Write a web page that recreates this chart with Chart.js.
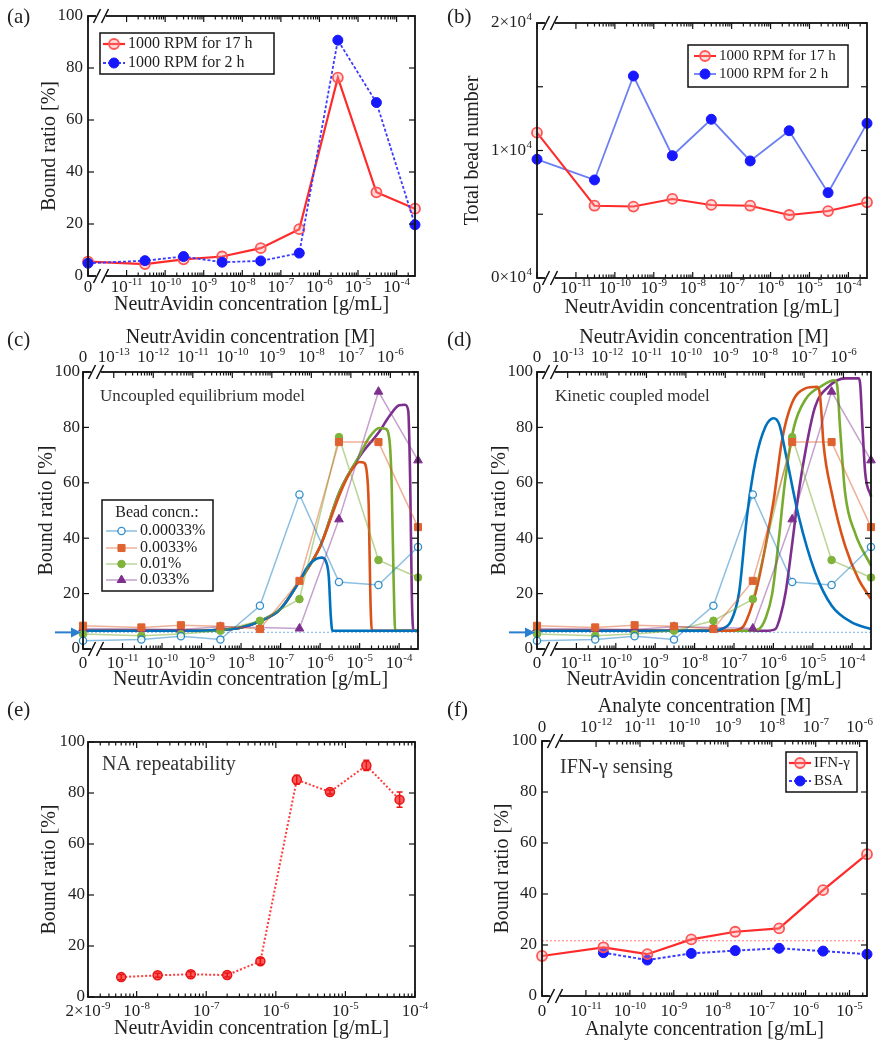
<!DOCTYPE html>
<html><head><meta charset="utf-8">
<script src="https://cdn.jsdelivr.net/npm/chart.js@4.4.1/dist/chart.umd.min.js"></script>
<style>
html,body{margin:0;padding:0;background:#fff;}
#wrap{position:relative;width:882px;height:1050px;overflow:hidden;background:#fff;}
#wrap canvas{position:absolute;left:0;top:0;}
</style></head>
<body><div id="wrap">
<canvas id="ca" width="882" height="1050"></canvas>
<canvas id="cb" width="882" height="1050"></canvas>
<canvas id="cc" width="882" height="1050"></canvas>
<canvas id="cd" width="882" height="1050"></canvas>
<canvas id="ce" width="882" height="1050"></canvas>
<canvas id="cf" width="882" height="1050"></canvas>
</div>
<script>
// ================= DATA =================
// (a),(b): NeutrAvidin concentration [g/mL] ("0" sits at the axis break)
const naConc = [0, 3e-11, 3e-10, 3e-9, 3e-8, 3e-7, 3e-6, 3e-5, 3e-4];
const rpmLabels = ['1000 RPM for 17 h', '1000 RPM for 2 h'];
const boundRatio17h = [5.5, 4.6, 6.4, 7.5, 10.7, 18.0, 76.3, 32.2, 25.9];
const boundRatio2h  = [4.9, 5.9, 7.5, 5.3, 5.8, 8.8, 90.7, 66.7, 19.7];
const beadNumber17h = [11400, 5670, 5600, 6200, 5730, 5670, 4940, 5250, 5940];
const beadNumber2h  = [9310, 7690, 15840, 9590, 12450, 9180, 11550, 6690, 12130];

// (c),(d): measured bound ratio per bead concentration
const beadLabels = ['0.00033%', '0.0033%', '0.01%', '0.033%'];
const bead000033 = [3.0, 3.4, 4.6, 3.4, 15.6, 55.8, 24.2, 23.1, 36.8];
const bead00033  = [8.4, 7.8, 8.6, 8.2, 7.2, 24.6, 74.7, 74.7, 44.0];
const bead001    = [5.4, 4.8, 5.4, 6.6, 10.2, 18.0, 76.5, 32.1, 25.8];
const bead0033   = [7.4, 7.2, 7.0, 8.0, 7.8, 7.4, 46.8, 92.9, 68.1];
const baselineRatio = 6.0;

// (c) uncoupled equilibrium model curves (x = log10 g/mL, -12 = "0")
const ucBlueX = [-12, -9, -8.5, -8, -7.5, -7, -6.52, -6.3, -6.1, -5.96, -5.85, -5.78, -5.73, -5.69, -3.52];
const ucBlueY = [6.6, 6.6, 6.9, 7.8, 10.2, 14.5, 24.6, 30, 32.5, 33, 31.5, 26, 12, 6.6, 6.6];
const ucOrangeX = [-12, -9, -8.5, -8, -7.5, -7, -6.52, -6, -5.5, -5.25, -5.0, -4.9, -4.82, -4.77, -4.73, -4.69, -3.52];
const ucOrangeY = [6.6, 6.6, 6.9, 7.8, 10.2, 14.5, 24.6, 37, 56, 63.5, 67.5, 67.3, 64, 52, 20, 6.6, 6.6];
const ucGreenX = [-12, -9, -8.5, -8, -7.5, -7, -6.52, -6, -5.5, -5, -4.75, -4.5, -4.35, -4.25, -4.19, -4.14, -4.1, -3.52];
const ucGreenY = [6.6, 6.6, 6.9, 7.8, 10.2, 14.5, 24.6, 37, 57, 70, 76.5, 79.8, 79.5, 76, 60, 25, 6.6, 6.6];
const ucPurpleX = [-12, -9, -8.5, -8, -7.5, -7, -6.52, -6, -5.5, -5, -4.5, -4.25, -4, -3.85, -3.77, -3.72, -3.68, -3.64, -3.52];
const ucPurpleY = [6.6, 6.6, 6.9, 7.8, 10.2, 14.5, 24.6, 37, 57, 69.5, 78.5, 84, 88, 88.2, 86, 60, 20, 6.6, 6.6];

// (d) kinetic coupled model curves
const kcBlueX = [-12, -7.6, -7.3, -7.08, -6.87, -6.67, -6.45, -6.2, -5.99, -5.85, -5.69, -5.36, -4.94, -4.52, -4.01, -3.52];
const kcBlueY = [6.6, 6.6, 7.3, 10, 20.5, 48, 68.3, 80.3, 83.3, 81, 70.7, 48, 27.6, 15.6, 9.6, 7.2];
const kcOrangeX = [-12, -7.1, -6.9, -6.75, -6.45, -6.2, -5.99, -5.78, -5.53, -5.19, -4.9, -4.83, -4.78, -4.73, -4.52, -4.18, -3.84, -3.52];
const kcOrangeY = [6.6, 6.6, 7.0, 8.4, 20.4, 37.2, 54, 75.5, 88.7, 94.1, 94.7, 93, 85, 74.3, 56.4, 37.2, 25.2, 18];
const kcGreenX = [-12, -6.6, -6.37, -6.2, -6.03, -5.86, -5.71, -5.48, -5.19, -4.77, -4.45, -4.38, -4.31, -4.18, -3.93, -3.52];
const kcGreenY = [6.6, 6.6, 7.2, 11, 20, 40, 60, 80, 90, 95, 97, 95, 80.3, 56.4, 42, 30];
const kcPurpleX = [-12, -6.2, -5.95, -5.82, -5.69, -5.53, -5.36, -5.15, -4.94, -4.6, -4.18, -3.84, -3.8, -3.74, -3.67, -3.52];
const kcPurpleY = [6.6, 6.6, 7.2, 12, 20.4, 37.2, 56.4, 74.3, 87.5, 94.7, 97.7, 97.7, 96, 80.3, 63.6, 55];

// (e) NA repeatability
const repConc = [6e-9, 2e-8, 6e-8, 2e-7, 6e-7, 2e-6, 6e-6, 2e-5, 6e-5];
const repRatio = [7.8, 8.5, 8.9, 8.6, 14.0, 85.2, 80.4, 90.8, 77.4];
const repError = [1.0, 0.8, 1.0, 0.8, 1.2, 1.8, 0.8, 2.0, 3.0];

// (f) IFN-gamma sensing
const ifnConc = [0, 2.5e-11, 2.5e-10, 2.5e-9, 2.5e-8, 2.5e-7, 2.5e-6, 2.5e-5];
const ifnRatio = [15.7, 19.1, 16.4, 22.2, 25.2, 26.5, 41.5, 55.6];
const bsaConc = [2.5e-11, 2.5e-10, 2.5e-9, 2.5e-8, 2.5e-7, 2.5e-6, 2.5e-5];
const bsaRatio = [17.0, 14.1, 16.7, 17.8, 18.7, 17.6, 16.4];
const ifnThreshold = 21.7;
const ifnLegend = ['IFN-γ', 'BSA'];

// tick labels
const gmlTickExp = [-12, -11, -10, -9, -8, -7, -6, -5, -4];
const gmlTickLabels = ['0', '10⁻¹¹', '10⁻¹⁰', '10⁻⁹', '10⁻⁸', '10⁻⁷', '10⁻⁶', '10⁻⁵', '10⁻⁴'];
const naMolarExp = [null, -13, -12, -11, -10, -9, -8, -7, -6];
const naMolarLabels = ['0', '10⁻¹³', '10⁻¹²', '10⁻¹¹', '10⁻¹⁰', '10⁻⁹', '10⁻⁸', '10⁻⁷', '10⁻⁶'];
const repTickVals = [2e-9, 1e-8, 1e-7, 1e-6, 1e-5, 1e-4];
const repTickLabels = ['2×10⁻⁹', '10⁻⁸', '10⁻⁷', '10⁻⁶', '10⁻⁵', '10⁻⁴'];
const ifnTickExp = [-12, -11, -10, -9, -8, -7, -6, -5];
const ifnTickLabels = ['0', '10⁻¹¹', '10⁻¹⁰', '10⁻⁹', '10⁻⁸', '10⁻⁷', '10⁻⁶', '10⁻⁵'];
const ifnMolarExp = [null, -12, -11, -10, -9, -8, -7, -6];
const ifnMolarLabels = ['0', '10⁻¹²', '10⁻¹¹', '10⁻¹⁰', '10⁻⁹', '10⁻⁸', '10⁻⁷', '10⁻⁶'];
const ratioTicks = [0, 20, 40, 60, 80, 100];
const ratioLabels = ['0', '20', '40', '60', '80', '100'];
const beadTicks = [0, 5000, 10000, 15000, 20000];
const beadTickLabels = ['0×10⁴', '', '1×10⁴', '', '2×10⁴'];
const NA_LOG_MW = Math.log10(60);   // 60 kDa: g/mL = M * 60
const IFN_LOG_MW = Math.log10(17);  // 17 kDa

// ================= HELPERS =================
const SERIF = '"Liberation Serif","Times New Roman","DejaVu Serif",serif';
const TXT = '#1f1f1f';
const TICK_SIZE = 17, SUP_SIZE = 11;
const BREAK_POS = -12;
const pos = c => c === 0 ? BREAK_POS : Math.log10(c);
const molarPos = (e, off) => e === null ? BREAK_POS : e + off;
const NA_MAX = pos(3e-4), IFN_MAX = pos(2.5e-5);
const SUP_MAP = {'⁻': '-', '⁰': '0', '¹': '1', '²': '2', '³': '3', '⁴': '4', '⁵': '5', '⁶': '6', '⁷': '7', '⁸': '8', '⁹': '9'};

function minorTicks(e0, e1, lo, hi, off) {
  const out = [];
  for (let e = e0; e <= e1; e++) for (let k = 2; k <= 9; k++) {
    const v = e + Math.log10(k) + (off || 0);
    if (v > lo + 0.01 && v < hi - 0.01) out.push(v);
  }
  return out;
}
function pts(xs, ys, fx) { return xs.map((x, i) => ({x: fx ? fx(x) : x, y: ys[i]})); }

// draws a label such as "10⁻¹¹" with a real raised exponent
function drawSupLabel(ctx, label, x, y, align) {
  let base = '', exp = '';
  for (const ch of label) { if (SUP_MAP[ch] !== undefined) exp += SUP_MAP[ch]; else base += ch; }
  ctx.font = TICK_SIZE + 'px ' + SERIF;
  const wb = ctx.measureText(base).width;
  ctx.font = SUP_SIZE + 'px ' + SERIF;
  const we = exp ? ctx.measureText(exp).width + 0.5 : 0;
  const w = wb + we;
  const x0 = align === 'right' ? x - w : x - w / 2;
  ctx.textAlign = 'left'; ctx.textBaseline = 'middle'; ctx.fillStyle = TXT;
  ctx.font = TICK_SIZE + 'px ' + SERIF;
  ctx.fillText(base, x0, y);
  if (exp) { ctx.font = SUP_SIZE + 'px ' + SERIF; ctx.fillText(exp, x0 + wb + 0.5, y - 5.5); }
}

function xAxis(position, min, max, ticks, labels, title, H, pad) {
  return {
    type: 'linear', position, min, max, bounds: 'data',
    afterBuildTicks: s => { s.ticks = ticks.map(v => ({value: v})); },
    afterFit: s => { s.height = H; s.paddingLeft = 0; s.paddingRight = 0; },
    ticks: {display: false, autoSkip: false, maxRotation: 0, minRotation: 0, padding: pad,
      callback: (v, i) => labels[i]},
    grid: {display: false, drawTicks: false},
    border: {display: false},
    labelPad: pad,
    title: {display: true, text: title, color: TXT, font: {family: SERIF, size: 20}, padding: 0}
  };
}
function yAxis(min, max, ticks, labels, title, W, pad) {
  return {
    type: 'linear', position: 'left', min, max, bounds: 'data',
    afterBuildTicks: s => { s.ticks = ticks.map(v => ({value: v})); },
    afterFit: s => { s.width = W; s.paddingTop = 0; s.paddingBottom = 0; },
    ticks: {display: false, autoSkip: false, padding: pad, callback: (v, i) => labels[i]},
    grid: {display: false, drawTicks: false},
    border: {display: false},
    title: {display: true, text: title, color: TXT, font: {family: SERIF, size: 20}, padding: 0}
  };
}

function drawMarker(ctx, ds, x, y) {
  if (!ds.pointRadius) return;
  ctx.save();
  ctx.fillStyle = ds.pointBackgroundColor || ds.borderColor;
  ctx.strokeStyle = ds.pointBorderColor || ds.borderColor;
  ctx.lineWidth = ds.pointBorderWidth == null ? 1 : ds.pointBorderWidth;
  ctx.setLineDash([]);
  Chart.helpers.drawPoint(ctx, {pointStyle: ds.pointStyle || 'circle', radius: ds.pointRadius, rotation: 0, borderWidth: ctx.lineWidth}, x, y);
  ctx.restore();
}
function breakMark(ctx, x, y) {
  ctx.save();
  ctx.fillStyle = '#fff';
  ctx.fillRect(x - 1, y - 2.5, 10, 5);
  ctx.strokeStyle = '#111'; ctx.lineWidth = 1.5;
  [x, x + 8].forEach(xx => { ctx.beginPath(); ctx.moveTo(xx - 3.5, y + 7); ctx.lineTo(xx + 3.5, y - 7); ctx.stroke(); });
  ctx.restore();
}

function decoPlugin(d) {
  return {
    id: 'deco',
    afterDatasetsDraw(chart) {
      const ctx = chart.ctx, ca = chart.chartArea;
      const xs = chart.scales.x, ys = chart.scales.y, xt = chart.scales.xt;
      ctx.save();
      if (d.errorBars) {
        const ds = chart.data.datasets[d.errorBars.index];
        ctx.strokeStyle = d.errorBars.color; ctx.lineWidth = 1.5;
        ds.data.forEach((p, i) => {
          const e = d.errorBars.errors[i];
          const px = xs.getPixelForValue(p.x), y1 = ys.getPixelForValue(p.y - e), y2 = ys.getPixelForValue(p.y + e);
          ctx.beginPath(); ctx.moveTo(px, y1); ctx.lineTo(px, y2);
          ctx.moveTo(px - 3, y1); ctx.lineTo(px + 3, y1); ctx.moveTo(px - 3, y2); ctx.lineTo(px + 3, y2); ctx.stroke();
        });
      }
      ctx.strokeStyle = '#111'; ctx.lineWidth = 1.8;
      ctx.strokeRect(ca.left, ca.top, ca.right - ca.left, ca.bottom - ca.top);
      ctx.lineWidth = 1.2;
      const seg = (x1, y1, x2, y2) => { ctx.beginPath(); ctx.moveTo(x1, y1); ctx.lineTo(x2, y2); ctx.stroke(); };
      const MJ = 6, MN = 3.5;
      xs.ticks.forEach(t => { const p = xs.getPixelForValue(t.value); seg(p, ca.bottom, p, ca.bottom - MJ); if (!xt) seg(p, ca.top, p, ca.top + MJ); });
      (d.xMinor || []).forEach(v => { const p = xs.getPixelForValue(v); seg(p, ca.bottom, p, ca.bottom - MN); if (!xt) seg(p, ca.top, p, ca.top + MN); });
      if (xt) {
        xt.ticks.forEach(t => { const p = xt.getPixelForValue(t.value); seg(p, ca.top, p, ca.top + MJ); });
        (d.topMinor || []).forEach(v => { const p = xt.getPixelForValue(v); seg(p, ca.top, p, ca.top + MN); });
      }
      ys.ticks.forEach(t => { const p = ys.getPixelForValue(t.value); seg(ca.left, p, ca.left + MJ, p); seg(ca.right, p, ca.right - MJ, p); });
      if (d.breaks) { breakMark(ctx, ca.left + 9, ca.bottom); breakMark(ctx, ca.left + 9, ca.top); }
      ctx.restore();
    },
    afterDraw(chart) {
      const ctx = chart.ctx, ca = chart.chartArea, ys = chart.scales.y, xs = chart.scales.x, xt = chart.scales.xt;
      ctx.save();
      // tick labels (from the scales' own ticks)
      const half = TICK_SIZE * 0.6;
      xs.ticks.forEach(t => drawSupLabel(ctx, t.label, xs.getPixelForValue(t.value), ca.bottom + xs.options.labelPad + half, 'center'));
      if (xt) xt.ticks.forEach(t => drawSupLabel(ctx, t.label, xt.getPixelForValue(t.value), ca.top - xt.options.labelPad - half, 'center'));
      ys.ticks.forEach(t => { if (t.label) drawSupLabel(ctx, t.label, ca.left - ys.options.ticks.padding, ys.getPixelForValue(t.value), 'right'); });

      ctx.textBaseline = 'middle'; ctx.textAlign = 'left';
      if (d.panel) { ctx.fillStyle = TXT; ctx.font = '21px ' + SERIF; ctx.fillText(d.panel[0], d.panel[1], d.panel[2]); }
      (d.notes || []).forEach(n => { ctx.fillStyle = '#333'; ctx.font = n[3] + 'px ' + SERIF; ctx.fillText(n[0], n[1], n[2]); });
      if (d.arrow) {
        const y = ys.getPixelForValue(d.arrow.value);
        const x0 = ca.left - 28, x1 = ca.left - 2;
        ctx.strokeStyle = d.arrow.color; ctx.fillStyle = d.arrow.color; ctx.lineWidth = 2;
        ctx.beginPath(); ctx.moveTo(x0, y); ctx.lineTo(x1 - 8, y); ctx.stroke();
        ctx.beginPath(); ctx.moveTo(x1, y); ctx.lineTo(x1 - 10, y - 5); ctx.lineTo(x1 - 10, y + 5); ctx.closePath(); ctx.fill();
      }
      if (d.legend) {
        const L = d.legend;
        ctx.fillStyle = '#fff'; ctx.fillRect(L.x, L.y, L.w, L.h);
        ctx.strokeStyle = '#111'; ctx.lineWidth = 1.5; ctx.strokeRect(L.x, L.y, L.w, L.h);
        ctx.font = L.size + 'px ' + SERIF; ctx.fillStyle = TXT;
        if (L.title) { ctx.textAlign = 'center'; ctx.fillText(L.title, L.titleX, L.titleY); ctx.textAlign = 'left'; }
        L.rows.forEach(r => {
          const ds = chart.data.datasets[r[0]];
          ctx.save();
          ctx.strokeStyle = ds.borderColor; ctx.lineWidth = ds.borderWidth; ctx.setLineDash(ds.borderDash || []);
          ctx.beginPath(); ctx.moveTo(L.s0, r[2]); ctx.lineTo(L.s1, r[2]); ctx.stroke();
          ctx.restore();
          drawMarker(ctx, ds, (L.s0 + L.s1) / 2, r[2]);
          ctx.font = L.size + 'px ' + SERIF; ctx.textAlign = 'left'; ctx.textBaseline = 'middle';
          ctx.fillStyle = TXT; ctx.fillText(r[1], L.tx, r[2]);
        });
      }
      ctx.restore();
    }
  };
}

function buildChart(id, p) {
  const scales = {
    x: xAxis('bottom', p.xMin, p.xMax, p.xTicks, p.xLabels, p.xTitle, p.xH, p.xPad),
    y: yAxis(p.yMin, p.yMax, p.yTicks, p.yLabels, p.yTitle, p.yW, p.yPad)
  };
  if (p.top) scales.xt = xAxis('top', p.xMin, p.xMax, p.top.ticks, p.top.labels, p.top.title, p.top.H, p.top.pad);
  const padTop = p.top ? p.t - p.top.H : p.t;
  return new Chart(document.getElementById(id), {
    type: 'line',
    data: {datasets: p.datasets},
    options: {
      responsive: false, animation: false, devicePixelRatio: 1, events: [],
      layout: {autoPadding: false, padding: {left: p.l - p.yW, top: padTop, right: 882 - p.r, bottom: 1050 - p.b - p.xH}},
      plugins: {legend: {display: false}, tooltip: {enabled: false}, title: {display: false}},
      scales
    },
    plugins: [decoPlugin(p.deco)]
  });
}

// styles
const RED = '#ff2b2b';
const redOpen = {borderColor: RED, borderWidth: 2.2, pointStyle: 'circle', pointRadius: 5,
  pointBackgroundColor: 'rgba(255,150,150,0.35)', pointBorderColor: '#ff5555', pointBorderWidth: 1.8, clip: false, tension: 0};
const blueFilled = {borderColor: '#3b3bff', borderWidth: 1.8, borderDash: [3, 2], pointStyle: 'circle', pointRadius: 5,
  pointBackgroundColor: '#1818ff', pointBorderColor: '#1818ff', pointBorderWidth: 1, clip: false, tension: 0};
const MC = ['#0072BD', '#D95319', '#77AC30', '#7E2F8E'];
const dataStyles = [
  {borderColor: 'rgba(0,114,189,0.45)', borderWidth: 1.5, pointStyle: 'circle', pointRadius: 3.6, pointBackgroundColor: 'rgba(255,255,255,0.85)', pointBorderColor: 'rgba(0,114,189,0.8)', pointBorderWidth: 1.3},
  {borderColor: 'rgba(217,83,25,0.45)', borderWidth: 1.5, pointStyle: 'rect', pointRadius: 5, pointBackgroundColor: '#df6330', pointBorderColor: '#df6330', pointBorderWidth: 1},
  {borderColor: 'rgba(119,172,48,0.5)', borderWidth: 1.5, pointStyle: 'circle', pointRadius: 3.8, pointBackgroundColor: '#7fb33c', pointBorderColor: '#7fb33c', pointBorderWidth: 1},
  {borderColor: 'rgba(126,47,142,0.45)', borderWidth: 1.5, pointStyle: 'triangle', pointRadius: 5, pointBackgroundColor: '#7E2F8E', pointBorderColor: '#7E2F8E', pointBorderWidth: 1}
];
const beadSeries = [bead000033, bead00033, bead001, bead0033];

function beadDatasets(models) {
  const dsets = [];
  beadSeries.forEach((ys, i) => dsets.push(Object.assign({label: beadLabels[i], data: pts(naConc, ys, pos), clip: false, tension: 0}, dataStyles[i])));
  models.forEach((m, i) => dsets.push({label: beadLabels[i] + ' model', data: pts(m[0], m[1]), borderColor: MC[i], borderWidth: 2.6,
    pointRadius: 0, cubicInterpolationMode: 'monotone', clip: false}));
  dsets.push({label: 'baseline', data: pts([BREAK_POS, NA_MAX], [baselineRatio, baselineRatio]), borderColor: 'rgba(80,150,215,0.6)',
    borderWidth: 1.3, borderDash: [2, 2], pointRadius: 0, clip: false});
  return dsets;
}

const gmlMinor = minorTicks(-11, -4, -11, NA_MAX);
const naTopMinor = minorTicks(-13, -6, -13 + NA_LOG_MW, NA_MAX, NA_LOG_MW);
const naTop = {ticks: naMolarExp.map(e => molarPos(e, NA_LOG_MW)), labels: naMolarLabels,
  title: 'NeutrAvidin concentration [M]', H: 46, pad: 4};

// (a)
buildChart('ca', {
  l: 88, t: 16, r: 415, b: 276,
  xMin: BREAK_POS, xMax: NA_MAX, xTicks: gmlTickExp, xLabels: gmlTickLabels, xTitle: 'NeutrAvidin concentration [g/mL]', xH: 41, xPad: 1,
  yMin: 0, yMax: 100, yTicks: ratioTicks, yLabels: ratioLabels, yTitle: 'Bound ratio [%]', yW: 50, yPad: 5,
  datasets: [
    Object.assign({label: rpmLabels[1], data: pts(naConc, boundRatio2h, pos)}, blueFilled),
    Object.assign({label: rpmLabels[0], data: pts(naConc, boundRatio17h, pos)}, redOpen)
  ],
  deco: {panel: ['(a)', 7, 17], breaks: true, xMinor: gmlMinor,
    legend: {x: 100, y: 33, w: 174, h: 41, size: 16, s0: 103, s1: 125, tx: 128, rows: [[1, rpmLabels[0], 44], [0, rpmLabels[1], 63]]}}
});

// (b)
buildChart('cb', {
  l: 537, t: 23, r: 867, b: 278,
  xMin: BREAK_POS, xMax: NA_MAX, xTicks: gmlTickExp, xLabels: gmlTickLabels, xTitle: 'NeutrAvidin concentration [g/mL]', xH: 42, xPad: 0,
  yMin: 0, yMax: 20000, yTicks: beadTicks, yLabels: beadTickLabels, yTitle: 'Total bead number', yW: 76, yPad: 5,
  datasets: [
    Object.assign({}, redOpen, {label: rpmLabels[0], data: pts(naConc, beadNumber17h, pos), borderWidth: 2}),
    Object.assign({}, blueFilled, {label: rpmLabels[1], data: pts(naConc, beadNumber2h, pos), borderColor: 'rgba(70,95,240,0.8)', borderDash: [], borderWidth: 1.8})
  ],
  deco: {panel: ['(b)', 447, 17], breaks: true, xMinor: gmlMinor,
    legend: {x: 688, y: 45, w: 160, h: 42, size: 15, s0: 694, s1: 716, tx: 719, rows: [[0, rpmLabels[0], 56], [1, rpmLabels[1], 74]]}}
});

// (c)
buildChart('cc', {
  l: 83, t: 372, r: 418, b: 649,
  xMin: BREAK_POS, xMax: NA_MAX, xTicks: gmlTickExp, xLabels: gmlTickLabels, xTitle: 'NeutrAvidin concentration [g/mL]', xH: 43, xPad: 4,
  top: naTop,
  yMin: 0, yMax: 100, yTicks: ratioTicks, yLabels: ratioLabels, yTitle: 'Bound ratio [%]', yW: 48, yPad: 3,
  datasets: beadDatasets([[ucBlueX, ucBlueY], [ucOrangeX, ucOrangeY], [ucGreenX, ucGreenY], [ucPurpleX, ucPurpleY]]),
  deco: {panel: ['(c)', 7, 340], breaks: true, xMinor: gmlMinor, topMinor: naTopMinor,
    notes: [['Uncoupled equilibrium model', 100, 397, 17]],
    arrow: {value: baselineRatio, color: '#2b7fd0'},
    legend: {x: 102, y: 500, w: 111, h: 91, size: 16, title: 'Bead concn.:', titleX: 157, titleY: 513, s0: 106, s1: 137, tx: 140,
      rows: [[0, beadLabels[0], 531], [1, beadLabels[1], 548], [2, beadLabels[2], 564], [3, beadLabels[3], 580]]}}
});

// (d)
buildChart('cd', {
  l: 537, t: 372, r: 871, b: 649,
  xMin: BREAK_POS, xMax: NA_MAX, xTicks: gmlTickExp, xLabels: gmlTickLabels, xTitle: 'NeutrAvidin concentration [g/mL]', xH: 43, xPad: 4,
  top: naTop,
  yMin: 0, yMax: 100, yTicks: ratioTicks, yLabels: ratioLabels, yTitle: 'Bound ratio [%]', yW: 49, yPad: 4,
  datasets: beadDatasets([[kcBlueX, kcBlueY], [kcOrangeX, kcOrangeY], [kcGreenX, kcGreenY], [kcPurpleX, kcPurpleY]]),
  deco: {panel: ['(d)', 447, 340], breaks: true, xMinor: gmlMinor, topMinor: naTopMinor,
    notes: [['Kinetic coupled model', 555, 397, 17]],
    arrow: {value: baselineRatio, color: '#2b7fd0'}}
});

// (e)
const E_MIN = Math.log10(2e-9);
buildChart('ce', {
  l: 88, t: 742, r: 415, b: 997,
  xMin: E_MIN, xMax: -4, xTicks: repTickVals.map(pos), xLabels: repTickLabels, xTitle: 'NeutrAvidin concentration [g/mL]', xH: 44, xPad: 4,
  yMin: 0, yMax: 100, yTicks: ratioTicks, yLabels: ratioLabels, yTitle: 'Bound ratio [%]', yW: 50, yPad: 3,
  datasets: [{label: 'NA repeatability', data: pts(repConc, repRatio, pos), borderColor: '#ff3a3a', borderWidth: 2, borderDash: [2, 2],
    pointStyle: 'circle', pointRadius: 4.5, pointBackgroundColor: '#ff5c5c', pointBorderColor: '#e81515', pointBorderWidth: 1.5, clip: false, tension: 0}],
  deco: {panel: ['(e)', 7, 710], xMinor: minorTicks(-9, -5, E_MIN, -4),
    errorBars: {index: 0, errors: repError, color: '#e81515'},
    notes: [['NA repeatability', 102, 765, 20]]}
});

// (f)
buildChart('cf', {
  l: 542, t: 741, r: 867, b: 996,
  xMin: BREAK_POS, xMax: IFN_MAX, xTicks: ifnTickExp, xLabels: ifnTickLabels, xTitle: 'Analyte concentration [g/mL]', xH: 46, xPad: 5,
  top: {ticks: ifnMolarExp.map(e => molarPos(e, IFN_LOG_MW)), labels: ifnMolarLabels, title: 'Analyte concentration [M]', H: 46, pad: 3},
  yMin: 0, yMax: 100, yTicks: ratioTicks, yLabels: ratioLabels, yTitle: 'Bound ratio [%]', yW: 51, yPad: 5,
  datasets: [
    Object.assign({label: ifnLegend[0], data: pts(ifnConc, ifnRatio, pos)}, redOpen),
    Object.assign({label: ifnLegend[1], data: pts(bsaConc, bsaRatio, pos)}, blueFilled, {borderWidth: 2}),
    {label: 'threshold', data: pts([BREAK_POS, IFN_MAX], [ifnThreshold, ifnThreshold]), borderColor: 'rgba(255,110,110,0.7)', borderWidth: 1.3,
      borderDash: [2, 2], pointRadius: 0, clip: false}
  ],
  deco: {panel: ['(f)', 447, 710], breaks: true, xMinor: minorTicks(-11, -5, -11, IFN_MAX),
    topMinor: minorTicks(-12, -6, -12 + IFN_LOG_MW, IFN_MAX, IFN_LOG_MW),
    notes: [['IFN-γ sensing', 560, 768, 20]],
    legend: {x: 786, y: 752, w: 71, h: 40, size: 15, s0: 789, s1: 811, tx: 814, rows: [[0, ifnLegend[0], 763], [1, ifnLegend[1], 781]]}}
});
</script>
</body></html>
